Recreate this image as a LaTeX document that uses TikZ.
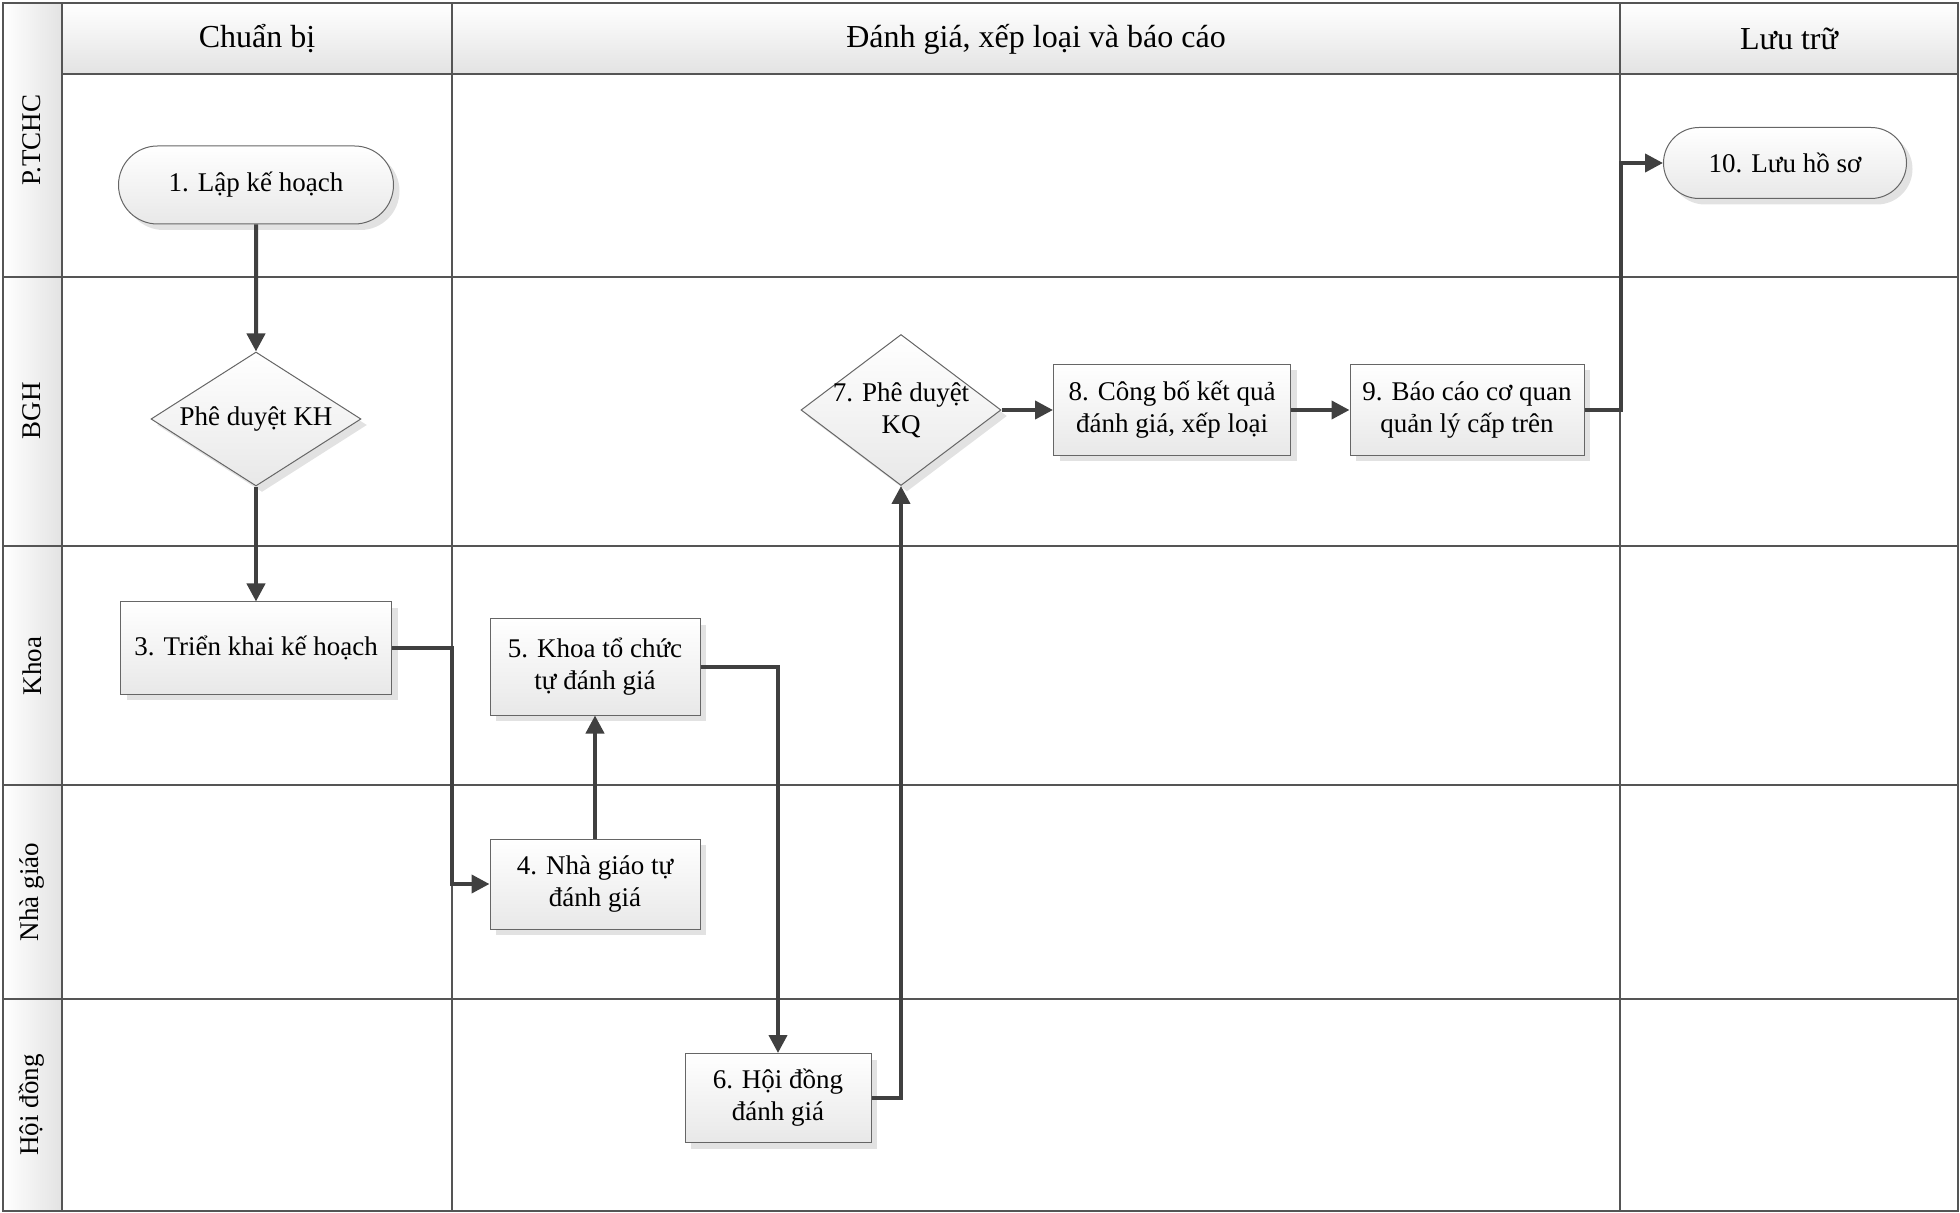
\documentclass[tikz,border=0pt]{standalone}
\usepackage{fontspec}
\setmainfont{Liberation Serif}
\usetikzlibrary{arrows.meta}
\usetikzlibrary{shapes.geometric}
\usetikzlibrary{shapes.misc}
\usetikzlibrary{shadows}
\definecolor{linegray}{HTML}{404040}
\definecolor{gridgray}{HTML}{555555}
\definecolor{boxgray}{HTML}{666666}
\tikzstyle{grid line}=[draw=gridgray, line width=1pt]
\tikzstyle{box text}=[font=\fontsize{13.5}{16}\selectfont, align=center]
\tikzstyle{shape look}=[box text, draw=boxgray, line width=0.5pt, top color=white, bottom color=gray!18,
  drop shadow={shadow xshift=3pt, shadow yshift=-3pt, fill=gray!45, opacity=0.5}]
\tikzstyle{task}=[shape look, rectangle, inner sep=2pt]
\tikzstyle{terminal}=[shape look, rounded rectangle, inner sep=2pt]
\tikzstyle{decision}=[shape look, diamond, inner sep=-5pt]
\tikzstyle{flow}=[draw=linegray, line width=2pt, -{Triangle[length=9pt, width=9pt]}]
\tikzstyle{lane title}=[font=\fontsize{13.5}{16}\selectfont, rotate=90]
\tikzstyle{phase title}=[font=\fontsize{16}{19}\selectfont]

\begin{document}
\begin{tikzpicture}[x=0.5pt, y=-0.5pt]
  \useasboundingbox (0,0) rectangle (1960,1213);
  % swimlane frame
  \shade[left color=white, right color=gray!22] (3,3) rectangle (62,1211);
  \shade[top color=white, bottom color=gray!22] (62,3) rectangle (1958,74);
  \draw[grid line] (3,3) rectangle (1958,1211);
  \draw[grid line] (62,3) -- (62,1211);
  \draw[grid line] (62,74) -- (1958,74);
  \foreach \y in {277,546,785,999}
    \draw[grid line] (3,\y) -- (1958,\y);
  \foreach \x in {452,1620}
    \draw[grid line] (\x,3) -- (\x,1211);

  \node[phase title] (prep) at (257,39) {Chuẩn bị};
  \node[phase title] (eval) at (1036,39) {Đánh giá, xếp loại và báo cáo};
  \node[phase title] (store) at (1789,39) {Lưu trữ};

  \node[lane title] (tchc) at (32,140) {P.TCHC};
  \node[lane title] (bgh) at (32,411) {BGH};
  \node[lane title] (khoa) at (32,666) {Khoa};
  \node[lane title] (teacher) at (32,892) {Nhà giáo};
  \node[lane title] (council) at (32,1105) {Hội đồng};

  % steps
  \node[terminal, minimum width=141.5pt, minimum height=39pt] (plan) at (256,185) {1. Lập kế hoạch};
  \node[decision, minimum width=105pt, minimum height=67pt, aspect=1.57] (approveplan) at (256,419) {Phê duyệt KH};
  \node[task, minimum width=135.5pt, minimum height=46pt] (deploy) at (256,648) {3. Triển khai kế hoạch};
  \node[task, minimum width=105pt, minimum height=45pt] (selfeval) at (595,884) {4. Nhà giáo tự\\đánh giá};
  \node[task, minimum width=105pt, minimum height=48pt] (facultyeval) at (595,667) {5. Khoa tổ chức\\tự đánh giá};
  \node[task, minimum width=93pt, minimum height=44.5pt] (councileval) at (778,1098) {6. Hội đồng\\đánh giá};
  \node[decision, minimum width=100pt, minimum height=75.5pt, aspect=1.32] (approveresult) at (901,410) {7. Phê duyệt\\KQ};
  \node[task, minimum width=118.5pt, minimum height=45.5pt] (announce) at (1172,410) {8. Công bố kết quả\\đánh giá, xếp loại};
  \node[task, minimum width=117pt, minimum height=45.5pt] (report) at (1467,410) {9. Báo cáo cơ quan\\quản lý cấp trên};
  \node[terminal, minimum width=125.5pt, minimum height=35.5pt] (archive) at (1785,163) {10. Lưu hồ sơ};

  % connectors
  \draw[flow] (plan) -- (approveplan);
  \draw[flow] (approveplan) -- (deploy);
  \draw[flow] (deploy.east) -- ++(60,0) |- (selfeval.west);
  \draw[flow] (selfeval) -- (facultyeval);
  \draw[flow] (facultyeval.east) -| (councileval.north);
  \draw[flow] (councileval.east) -| (approveresult.south);
  \draw[flow] (approveresult) -- (announce);
  \draw[flow] (announce) -- (report);
  \draw[flow] (report.east) -- ++(36,0) |- (archive.west);
\end{tikzpicture}
\end{document}
